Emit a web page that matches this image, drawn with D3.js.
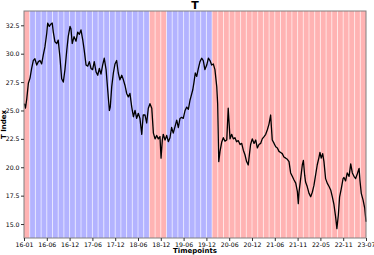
<!DOCTYPE html>
<html><head><meta charset="utf-8">
<script src="https://cdn.jsdelivr.net/npm/d3@7"></script>
<style>body{margin:0;background:#fff}svg{display:block;font-family:"DejaVu Sans",sans-serif}</style>
</head><body><svg id="c" width="374" height="255"></svg>
<script>
const timepoints=[2,8,15,24,33,42,51,60,70,79,88,97,106,115,125,130,139,147,155,161,170,180,188,198,207,216,225,235,243,253,258,265,275,286,295,304,313,323,331,341,350,359,368,377,386,396,405,414,423,432,441,451,460,469,474,482,491,500,509,518,527,537,546,555,564,573,582,592,601,610,619,628,637,647,655,665,674,683,692,702,711,720,729,738,747,753,760,765,775,784,793,802,811,820,830,839,848,857,866,875,885,894,903,912,917,927,934,941,949,958,967,976,985,994,1004,1013,1022,1031,1040,1049,1059,1064,1070,1077,1086,1095,1104,1114,1122,1132,1141,1150,1159,1168,1177,1187,1196,1205,1214,1223,1232,1239,1245,1254,1264,1273,1282,1291,1300,1309,1319,1328,1337,1346,1355,1364,1374,1383,1392,1401,1410,1419,1428,1438,1447,1456,1465,1474,1483,1493,1502,1507,1511,1520,1529,1535,1542,1547,1556,1566,1575,1584,1593,1602,1611,1621,1626,1633,1641,1648,1657,1666,1676,1685,1694,1703,1712,1719,1727,1734,1743,1753,1758,1767,1776,1786,1795,1804,1813,1822,1831,1841,1846,1853,1863,1872,1879];
const values=[25.6,25.2,26.0,27.4,27.85,28.7,29.4,29.55,29.0,29.3,29.4,29.1,29.9,30.6,31.8,32.7,32.4,32.6,32.7,31.9,31.05,30.9,31.2,29.6,27.8,27.5,28.6,30.3,31.5,32.4,32.2,30.9,31.5,31.1,31.9,31.7,32.1,31.2,30.3,29.0,28.9,29.3,28.7,28.6,29.3,28.4,28.1,28.7,28.2,29.0,29.6,28.6,26.8,25.0,25.3,27.1,28.3,29.1,29.4,28.3,27.7,28.1,27.7,27.2,26.5,26.2,26.5,25.3,24.45,25.0,24.3,24.75,24.3,22.9,24.6,24.6,23.9,25.2,25.6,25.2,23.0,22.5,22.8,22.5,22.7,20.8,22.4,22.9,22.4,22.8,22.25,22.6,23.5,23.0,23.6,24.15,23.5,24.3,24.4,24.3,25.0,25.3,25.1,25.9,26.2,26.8,27.5,28.3,28.0,28.7,29.3,29.6,29.4,28.6,29.0,29.6,29.4,29.0,29.1,28.6,27.1,25.6,20.5,21.4,22.2,22.6,22.3,22.4,25.2,22.5,22.9,22.5,22.6,22.25,22.35,22.0,22.1,21.5,21.1,20.5,20.2,21.2,22.0,22.5,22.1,22.4,21.7,22.0,22.1,22.5,22.7,22.9,23.3,23.8,24.6,22.4,22.1,21.8,21.7,21.4,21.3,21.2,20.9,20.8,20.7,20.5,19.5,19.2,18.9,18.6,17.85,16.8,17.8,19.0,20.2,20.6,19.3,18.7,18.3,17.7,17.4,17.8,18.4,19.3,20.2,20.9,21.3,20.8,21.2,20.5,19.0,18.6,18.3,18.0,17.4,16.7,15.65,14.6,15.8,17.4,18.1,19.0,19.1,18.8,19.5,19.2,20.3,19.5,19.2,19.0,19.4,19.9,18.8,17.7,17.1,16.4,15.2];
const tickLabels=["16-01","16-06","16-12","17-06","17-12","18-06","18-12","19-06","19-12","20-06","20-12","21-06","21-11","22-05","22-11","23-07"];
const yTicks=[15,17.5,20,22.5,25,27.5,30,32.5];
// regime per band: 0 = red regime, 1 = blue regime
const bandRegimes=[0,1,1,1,1,1,1,1,1,1,1,1,1,1,1,1,1,1,1,1,1,1,0,0,0,1,1,1,1,1,1,1,1,0,0,0,0,0,0,0,0,0,0,0,0,0,0,0,0,0,0,0,0,0,0,0,0,0,0,0];
const totalDays=1880;
const title="T", xTitle="Timepoints", yTitle="T Index";

const svg=d3.select("#c");
const L=24,R=366,T=11,B=238;
const x=d3.scaleLinear().domain([0,totalDays-1]).range([L,R]);
const y=d3.scaleLinear().domain([13.77,33.76]).range([B,T]);
const bw=(totalDays-1)/bandRegimes.length;
const colors=["#ffb3b3","#b3b3ff"];

svg.append("g").selectAll("rect").data(bandRegimes).join("rect")
  .attr("x",(d,i)=>x(i*bw)).attr("width",(d,i)=>x((i+1)*bw)-x(i*bw))
  .attr("y",T).attr("height",B-T).attr("fill",d=>colors[d]);
svg.append("g").selectAll("line").data(d3.range(1,bandRegimes.length)).join("line")
  .attr("x1",i=>x(i*bw)).attr("x2",i=>x(i*bw)).attr("y1",T).attr("y2",B)
  .attr("stroke","#fff").attr("stroke-opacity",0.7).attr("stroke-width",0.8);

const pts=timepoints.map((t,i)=>[t,values[i]]);
svg.append("path").datum(pts).attr("fill","none").attr("stroke","#000").attr("stroke-width",1.3)
  .attr("stroke-linejoin","round")
  .attr("d",d3.line().x(d=>x(d[0])).y(d=>y(d[1])));

svg.append("rect").attr("x",L).attr("y",T).attr("width",R-L).attr("height",B-T)
  .attr("fill","none").attr("stroke","#808080").attr("stroke-width",1);

const xt=d3.range(tickLabels.length).map(i=>i*(totalDays-1)/(tickLabels.length-1));
const xa=svg.append("g").attr("transform",`translate(0,${B})`)
  .call(d3.axisBottom(x).tickValues(xt).tickFormat((d,i)=>tickLabels[i]).tickSize(3).tickPadding(1.5));
const ya=svg.append("g").attr("transform",`translate(${L},0)`)
  .call(d3.axisLeft(y).tickValues(yTicks).tickFormat(d3.format(".1f")).tickSize(3).tickPadding(1.5));
[xa,ya].forEach(a=>{a.select(".domain").remove();a.selectAll("line").attr("stroke","#333");
  a.selectAll("text").attr("font-size","6.2px").attr("fill","#000").attr("font-family","DejaVu Sans");});

svg.append("text").attr("x",(L+R)/2).attr("y",9).attr("text-anchor","middle")
  .attr("font-size","11px").attr("font-weight","bold").text(title);
svg.append("text").attr("x",(L+R)/2).attr("y",252.5).attr("text-anchor","middle")
  .attr("font-size","7px").attr("font-weight","bold").text(xTitle);
svg.append("text").attr("transform",`translate(6,${(T+B)/2}) rotate(-90)`).attr("text-anchor","middle")
  .attr("font-size","7px").attr("font-weight","bold").text(yTitle);
</script></body></html>
